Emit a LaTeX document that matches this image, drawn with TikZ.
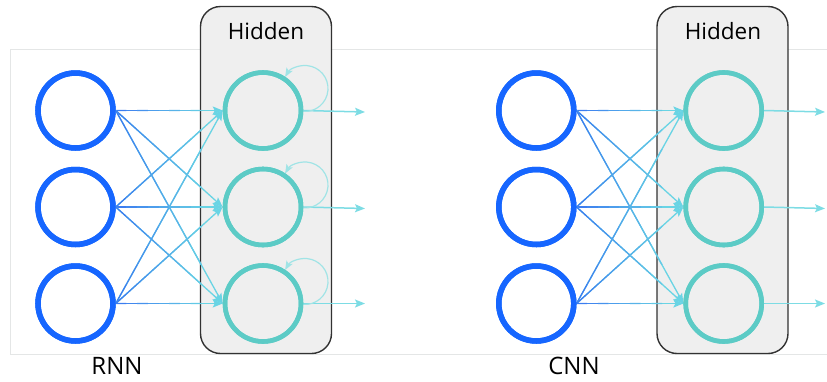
\documentclass[tikz,border=0pt]{standalone}
\usepackage{fontspec}
\setmainfont{Open Sans}
\usetikzlibrary{calc,arrows.meta}

\definecolor{inblue}{RGB}{22,102,255}
\definecolor{hidteal}{RGB}{92,203,198}
\definecolor{linkA}{RGB}{60,125,240}
\definecolor{linkB}{RGB}{105,212,228}
\definecolor{outcyan}{RGB}{125,220,228}
\definecolor{loopcyan}{RGB}{160,228,230}
\definecolor{boxfill}{RGB}{239,239,239}
\definecolor{boxedge}{RGB}{50,50,50}
\definecolor{framegray}{RGB}{228,230,230}

\tikzset{
  x=1pt, y=1pt,
  incirc/.style={circle, draw=inblue, line width=5.5pt, minimum size=75pt, inner sep=0pt},
  hidcirc/.style={circle, draw=hidteal, line width=4.6pt, minimum size=76pt, inner sep=0pt},
  hidbox/.style={rectangle, rounded corners=20pt, draw=boxedge, fill=boxfill,
    line width=1.4pt, minimum width=131pt, minimum height=347pt, inner sep=0pt},
  hidlabel/.style={font=\fontsize{22.5}{26}\selectfont, inner sep=0pt},
  netlabel/.style={font=\fontsize{24}{28}\selectfont, inner sep=0pt},
  frameline/.style={draw=framegray, line width=1pt},
  tipstyle/.style={-{Stealth[length=10pt,width=8pt,inset=2pt]}},
  linktip/.style={tipstyle, draw=linkB, line width=1.3pt},
  linkseg/.style={line width=1.3pt, line cap=butt},
  outarrow/.style={tipstyle, draw=outcyan, line width=1.5pt},
  selfloop/.style={-{Stealth[length=9pt,width=7pt,inset=2pt]}, draw=loopcyan, line width=1.2pt},
}

% connector from input node #1 to hidden node #2, blue fading into cyan
\newcommand\gradlink[2]{%
  \draw[linktip] (#1.east) -- (#2.west);
  \foreach \k in {0,...,7}{%
    \pgfmathsetmacro\mixv{100-\k*12.5}%
    \draw[linkseg, draw=linkA!\mixv!linkB]
      ($(#1.east)!\k/10!(#2.west)$) -- ($(#1.east)!{(\k+1)/10}!(#2.west)$);
  }%
}

\begin{document}
\begin{tikzpicture}
\useasboundingbox (0,0) rectangle (827,-381);

% thin outer frame
\draw[frameline] (827,-49) -- (10,-49) -- (10,-354) -- (827,-354);

% hidden layer boxes
\node[hidbox] (boxL) at (266,-180) {};
\node[hidbox] (boxR) at (722.5,-180) {};
\node[hidlabel] (hidL) at (266,-31) {Hidden};
\node[hidlabel] (hidR) at (723,-31) {Hidden};

% network names
\node[netlabel] (rnn) at (117,-366) {RNN};
\node[netlabel] (cnn) at (574,-366) {CNN};

% input and hidden units
\foreach \n/\y in {1/-110.5, 2/-207, 3/-303.5}{
  \node[incirc] (ri\n) at (75.5,\y) {};
  \node[hidcirc] (rh\n) at (263,\y) {};
  \node[incirc] (ci\n) at (536.3,\y) {};
  \node[hidcirc] (ch\n) at (723.7,\y) {};
}

% output end points
\foreach \n/\y in {1/-112, 2/-208.5, 3/-303.5}{
  \coordinate (ro\n) at (365,\y);
  \coordinate (co\n) at (825,\y);
}

% fully connected input -> hidden
\foreach \a in {1,2,3}{
  \foreach \b in {1,2,3}{
    \gradlink{ri\a}{rh\b}
    \gradlink{ci\a}{ch\b}
  }
}

% outputs
\foreach \n in {1,2,3}{
  \draw[outarrow] (rh\n.east) -- (ro\n);
  \draw[outarrow] (ch\n.east) -- (co\n);
}

% recurrent self loops
\foreach \n in {1,2,3}{
  \draw[selfloop] ($(rh\n.center)+(40,-0.9)$) arc[start angle=-95, end angle=150, radius=23];
}

% redraw units on top
\foreach \n/\y in {1/-110.5, 2/-207, 3/-303.5}{
  \node[incirc] at (ri\n) {};
  \node[hidcirc] at (rh\n) {};
  \node[incirc] at (ci\n) {};
  \node[hidcirc] at (ch\n) {};
}
\end{tikzpicture}
\end{document}
